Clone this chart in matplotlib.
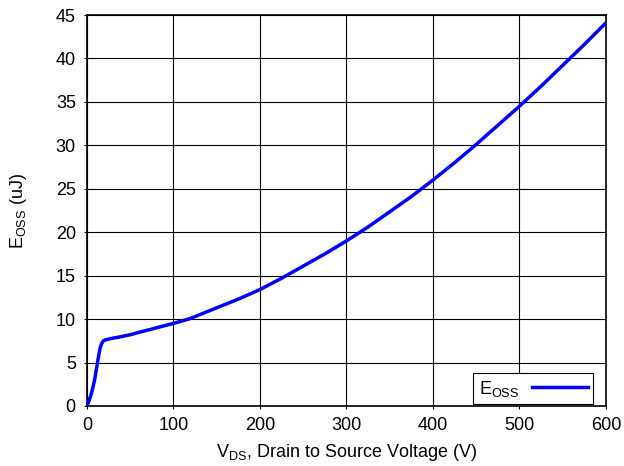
import numpy as np
import matplotlib.pyplot as plt

plt.rcParams['font.family'] = ['Liberation Sans', 'DejaVu Sans']

vds = [0, 2, 5, 7, 9, 11, 13, 15, 17, 19, 21, 25, 30, 38, 50, 61, 75, 84, 100, 119,
       150, 175, 200, 225, 250, 275, 300, 325, 350, 375, 400, 425, 450, 475, 500,
       525, 550, 575, 600]
eoss = [0, 0.5, 1.4, 2.2, 3.1, 4.3, 5.5, 6.6, 7.2, 7.5, 7.6, 7.7, 7.8, 7.95, 8.2, 8.5, 8.85, 9.1, 9.5, 10.05,
        11.3, 12.3, 13.4, 14.7, 16.1, 17.5, 19.0, 20.6, 22.35, 24.1, 26.0, 28.0, 30.1, 32.3, 34.5,
        36.8, 39.2, 41.6, 44.1]

fig = plt.figure(figsize=(6.24, 4.66), dpi=100)
ax = fig.add_axes([0.1394, 0.1288, 0.8316, 0.839])

ax.plot(vds, eoss, color='#0000ff', linewidth=2.5, label='E$_\\mathregular{OSS}$',
        zorder=3, solid_joinstyle='round')

ax.set_xlim(0, 600)
ax.set_ylim(0, 45)
ax.set_xticks(range(0, 601, 100))
ax.set_yticks(range(0, 46, 5))
ax.grid(True, color='black', linewidth=0.8)
ax.tick_params(labelsize=13, length=2, width=0.8, pad=6)
for s in ax.spines.values():
    s.set_linewidth(1.2)

ax.set_xlabel('V$_\\mathregular{DS}$, Drain to Source Voltage (V)', fontsize=13, labelpad=6)
ax.set_ylabel('E$_\\mathregular{OSS}$ (uJ)', fontsize=13, labelpad=19)

leg = ax.legend(loc='lower right', bbox_to_anchor=(0.975, 0.005), borderaxespad=0,
                markerfirst=False, fancybox=False, fontsize=13, edgecolor='black',
                framealpha=1, handlelength=3.1, handletextpad=0.7, borderpad=0.3)
leg.get_frame().set_linewidth(0.8)

fig.savefig('out.png', dpi=100)
